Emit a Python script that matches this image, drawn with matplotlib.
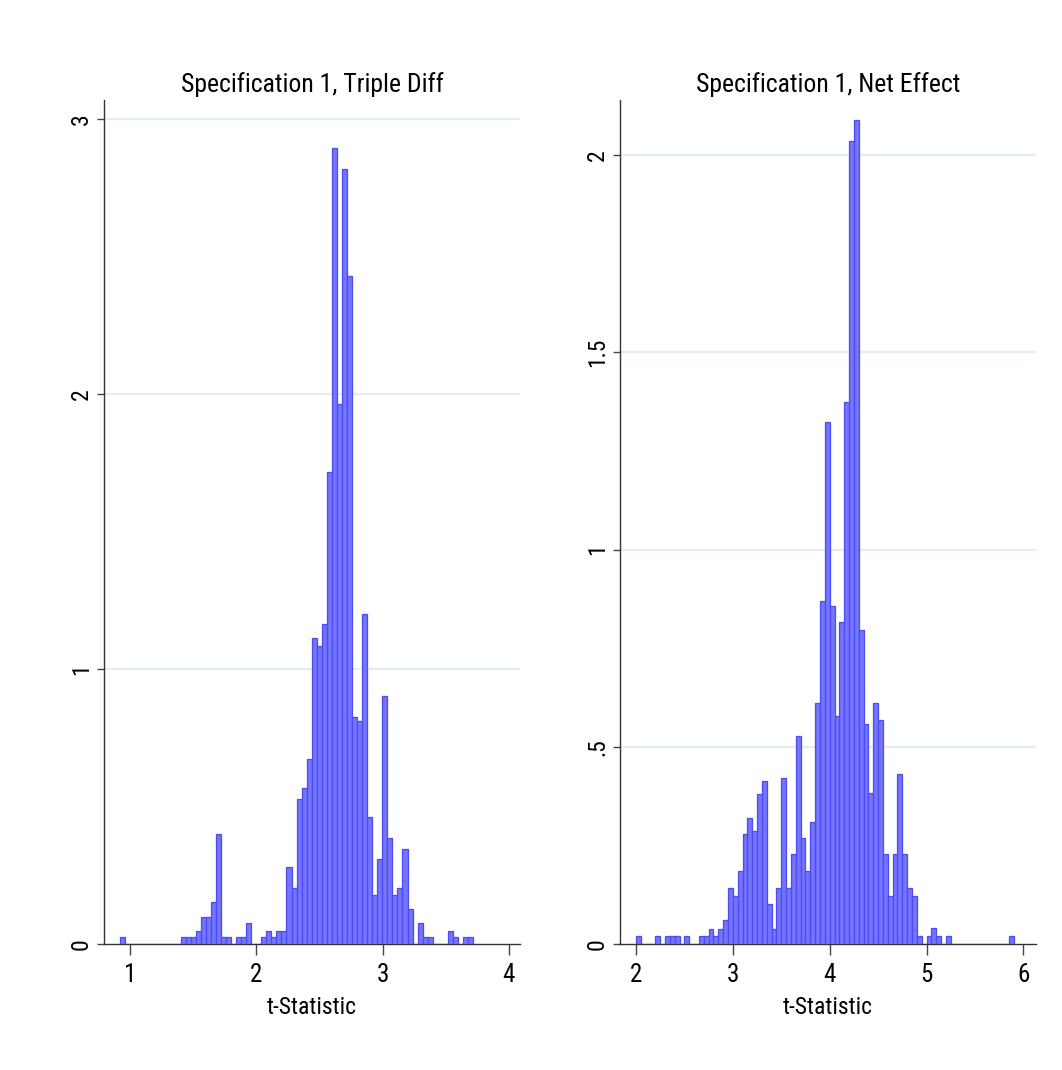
import numpy as np
import matplotlib
matplotlib.use("Agg")
import matplotlib.pyplot as plt
from matplotlib import font_manager

# ------------------------------------------------------------
# Data (density per bin)
# ------------------------------------------------------------
triple_start = 0.918
triple_width = 0.04
triple_density = [
    0.024, 0, 0, 0, 0, 0, 0, 0, 0, 0,
    0, 0, 0.024, 0.024, 0.024, 0.048, 0.099, 0.099, 0.152, 0.399,
    0.024, 0.024, 0, 0.024, 0.024, 0.075, 0, 0, 0.024, 0.048,
    0.024, 0.048, 0.048, 0.281, 0.204, 0.527, 0.566, 0.672, 1.112, 1.084,
    1.163, 1.717, 2.896, 1.964, 2.818, 2.430, 0.824, 0.812, 1.200, 0.463,
    0.178, 0.308, 0.903, 0.384, 0.178, 0.204, 0.345, 0.127, 0, 0.075,
    0.024, 0.024, 0, 0, 0, 0.048, 0.024, 0, 0.024, 0.024,
]

net_start = 2.0
net_width = 0.05
net_density = [
    0.019, 0, 0, 0, 0.019, 0, 0.019, 0.019, 0.019, 0,
    0.019, 0, 0, 0.019, 0.019, 0.039, 0.019, 0.039, 0.061, 0.143,
    0.122, 0.185, 0.278, 0.320, 0.287, 0.381, 0.413, 0.102, 0.039, 0.143,
    0.422, 0.143, 0.227, 0.527, 0.268, 0.185, 0.308, 0.610, 0.869, 1.323,
    0.856, 0.578, 0.817, 1.374, 2.035, 2.088, 0.796, 0.557, 0.382, 0.610,
    0.568, 0.227, 0.122, 0.227, 0.432, 0.227, 0.143, 0.122, 0.019, 0,
    0.019, 0.040, 0.019, 0, 0.019, 0, 0, 0, 0, 0,
    0, 0, 0, 0, 0, 0, 0, 0.019,
]

triple_xticks = [1, 2, 3, 4]
triple_yticks = [0, 1, 2, 3]
triple_ylabels = ["0", "1", "2", "3"]

net_xticks = [2, 3, 4, 5, 6]
net_yticks = [0, 0.5, 1, 1.5, 2]
net_ylabels = ["0", ".5", "1", "1.5", "2"]

titles = ["Specification 1, Triple Diff", "Specification 1, Net Effect"]
xlabel = "t-Statistic"

# --- pick the narrowest sans font that is installed ---
available = set(font_manager.get_font_names())
FONT, STRETCH, WIDTH_FACTOR = 'Liberation Sans', 'normal', 1.22
for name, factor in [('Liberation Sans Narrow', 1.0),
                     ('Roboto Condensed', 1.0),
                     ('Open Sans Condensed', 1.0)]:
    if name in available:
        FONT, WIDTH_FACTOR = name, factor
        break
else:
    cond = font_manager.findfont(
        font_manager.FontProperties(family='DejaVu Sans', stretch='condensed'),
        fallback_to_default=False)
    if 'Condensed' in cond:
        FONT, STRETCH, WIDTH_FACTOR = 'DejaVu Sans', 'condensed', 1.1

plt.rcParams['font.family'] = [FONT, 'DejaVu Sans']
plt.rcParams['font.stretch'] = STRETCH


def fs(size):
    return size / WIDTH_FACTOR ** 0.7


BAR_FACE = '#7474ff'
BAR_EDGE = '#4c4cf2'
GRID = '#e3eef0'


def draw_hist(ax, start, width, density, xticks, yticks, ylabels, title,
              xlim, ylim):
    """Stata-style density histogram from per-bin heights."""
    n = len(density)
    edges = start + width * np.arange(n + 1)
    centers = (edges[:-1] + edges[1:]) / 2
    dens = np.array(density, dtype=float)
    keep = dens > 0
    ax.hist(centers[keep], bins=edges, weights=dens[keep],
            facecolor=BAR_FACE, edgecolor=BAR_EDGE, linewidth=0.9, zorder=3)

    ax.set_xlim(*xlim)
    ax.set_ylim(*ylim)
    ax.set_xticks(xticks)
    ax.set_xticklabels([str(t) for t in xticks], fontsize=fs(18))
    ax.set_yticks(yticks)
    ax.set_yticklabels(ylabels, fontsize=fs(17), rotation=90, va='center')

    for y in yticks[1:]:
        ax.axhline(y, color=GRID, lw=1.6, zorder=1)

    for side in ['top', 'right']:
        ax.spines[side].set_visible(False)
    for side in ['left', 'bottom']:
        ax.spines[side].set_color('#333333')
        ax.spines[side].set_linewidth(1.0)
    ax.tick_params(axis='x', direction='out', length=8, width=1.0,
                   color='#444444', pad=6)
    ax.tick_params(axis='y', direction='out', length=5, width=1.0,
                   color='#444444', pad=3)

    ax.set_title(title, fontsize=fs(18.5), pad=6)
    ax.set_xlabel(xlabel, fontsize=fs(17), labelpad=6)


fig = plt.figure(figsize=(10.62, 10.70), dpi=100)

ax1 = fig.add_axes([0.0979, 0.1178, 0.3917, 0.7888])
draw_hist(ax1, triple_start, triple_width, triple_density,
          triple_xticks, triple_yticks, triple_ylabels, titles[0],
          (0.79, 4.09), (0, 3.07))

ax2 = fig.add_axes([0.5838, 0.1178, 0.3917, 0.7888])
draw_hist(ax2, net_start, net_width, net_density,
          net_xticks, net_yticks, net_ylabels, titles[1],
          (1.835, 6.13), (0, 2.14))

fig.savefig("out.png", dpi=100, facecolor='white')
